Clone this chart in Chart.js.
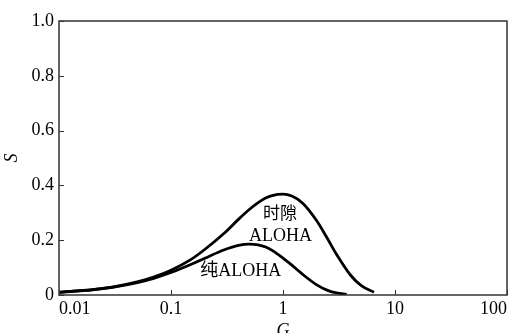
<!DOCTYPE html>
<html><head><meta charset="utf-8">
<script src="https://cdn.jsdelivr.net/npm/chart.js@4"></script>
<style>html,body{margin:0;padding:0;background:#fff}#wrap{width:512px;height:333px}</style>
</head><body><div id="wrap"><canvas id="c" width="512" height="333"></canvas></div>
<script>
// Offered load G (log axis) and throughput S
const slottedG = [0.01,0.02,0.03,0.05,0.07,0.1,0.15,0.2,0.3,0.4,0.5,0.6,0.7,0.8,1.0,1.2,1.5,2,2.5,3,4,5,6.5];
const slottedS = [0.0099,0.0196,0.0291,0.0476,0.0653,0.0905,0.129,0.166,0.226,0.276,0.312,0.337,0.354,0.363,0.368,0.361,0.335,0.271,0.205,0.149,0.073,0.034,0.010];
const pureG = [0.01,0.02,0.03,0.05,0.07,0.1,0.15,0.2,0.3,0.4,0.5,0.6,0.7,0.8,1.0,1.2,1.5,2,2.5,3,3.7];
const pureS = [0.0098,0.0192,0.0283,0.0452,0.0609,0.0819,0.111,0.134,0.165,0.181,0.186,0.183,0.175,0.163,0.135,0.109,0.075,0.037,0.017,0.0074,0.0022];
const xTicks = [0.01,0.1,1,10,100];
const xTickLabels = ["0.01","0.1","1","10","100"];
const yTicks = [0,0.2,0.4,0.6,0.8,1.0];
const yTickLabels = ["0","0.2","0.4","0.6","0.8","1.0"];
const labels = [
  {text:"时隙", g:0.94, s:0.300, font:"17px 'Noto Sans CJK SC'"},
  {text:"ALOHA", g:0.95, s:0.216, font:"18px 'Liberation Serif'"},
  {text:"纯ALOHA", g:0.42, s:0.087, font:"18px 'Liberation Serif','Noto Sans CJK SC'"}
];

const toPts = (xs, ys) => xs.map((x,i)=>({x:x, y:ys[i]}));

const framePlugin = {
  id:'frame',
  afterDraw(chart){
    const {ctx, chartArea:a, scales:{x,y}} = chart;
    ctx.save();
    ctx.strokeStyle = '#333';
    ctx.lineWidth = 1.5;
    ctx.strokeRect(a.left, a.top, a.right-a.left, a.bottom-a.top);
    ctx.lineWidth = 1;
    ctx.beginPath();
    xTicks.forEach(v=>{ const px = Math.round(x.getPixelForValue(v))+0.5; ctx.moveTo(px,a.bottom); ctx.lineTo(px,a.bottom-5); });
    yTicks.forEach(v=>{ const py = Math.round(y.getPixelForValue(v))+0.5; ctx.moveTo(a.left,py); ctx.lineTo(a.left+5,py); });
    ctx.stroke();
    ctx.fillStyle = '#000';
    ctx.textAlign = 'center';
    ctx.textBaseline = 'middle';
    labels.forEach(l=>{
      ctx.font = l.font;
      ctx.fillText(l.text, x.getPixelForValue(l.g), y.getPixelForValue(l.s));
    });
    ctx.restore();
  }
};

new Chart(document.getElementById('c'), {
  type:'scatter',
  data:{datasets:[
    {data:toPts(slottedG, slottedS), showLine:true, borderColor:'#000', borderWidth:2.8, pointRadius:0, tension:0.4, cubicInterpolationMode:'monotone'},
    {data:toPts(pureG, pureS), showLine:true, borderColor:'#000', borderWidth:2.8, pointRadius:0, tension:0.4, cubicInterpolationMode:'monotone'}
  ]},
  options:{
    responsive:false, animation:false,
    layout:{padding:{top:21,right:5,left:0,bottom:0}},
    plugins:{legend:{display:false}, tooltip:{enabled:false}},
    scales:{
      x:{type:'logarithmic', min:0.01, max:100,
        afterBuildTicks(s){ s.ticks = xTicks.map(v=>({value:v})); },
        afterFit(s){ s.height = 38; s.paddingLeft = 0; s.paddingRight = 0; },
        grid:{display:false, drawTicks:false},
        border:{display:false},
        ticks:{color:'#000', padding:3, align:'inner', font:{family:"'Liberation Serif'", size:18},
          callback:(v)=>{ const i = xTicks.indexOf(v); return i>=0 ? xTickLabels[i] : ''; }, maxRotation:0, autoSkip:false},
        title:{display:true, text:'G', color:'#000', font:{family:"'Liberation Serif'", size:18, style:'italic'}, padding:{top:0,bottom:-9}}
      },
      y:{type:'linear', min:0, max:1,
        afterBuildTicks(s){ s.ticks = yTicks.map(v=>({value:v})); },
        afterFit(s){ s.width = 59; s.paddingTop = 0; s.paddingBottom = 0; },
        grid:{display:false, drawTicks:false},
        border:{display:false},
        ticks:{color:'#000', padding:5, font:{family:"'Liberation Serif'", size:18},
          callback:(v)=>{ const i = yTicks.findIndex(t=>Math.abs(t-v)<1e-9); return i>=0 ? yTickLabels[i] : ''; }},
        title:{display:true, text:'S', color:'#000', font:{family:"'Liberation Serif'", size:18, style:'italic'}, padding:{top:1,bottom:0}}
      }
    }
  },
  plugins:[framePlugin]
});
</script></body></html>
